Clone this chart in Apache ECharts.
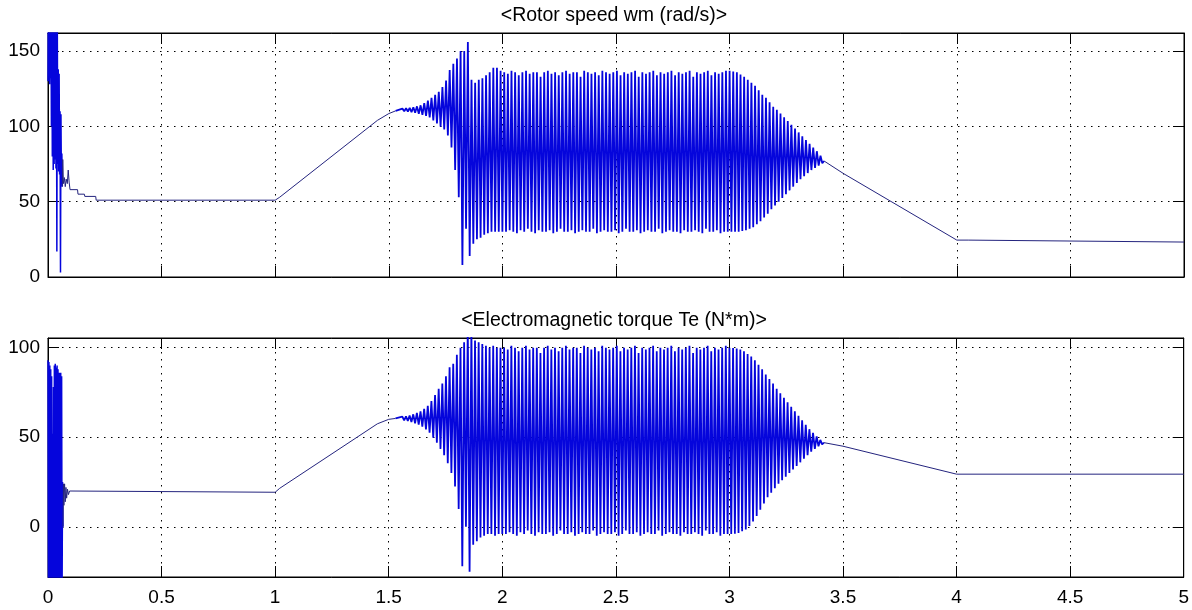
<!DOCTYPE html>
<html>
<head>
<meta charset="utf-8">
<script src="https://cdn.jsdelivr.net/npm/echarts@6/dist/echarts.min.js"></script>
<style>
  html, body { margin: 0; padding: 0; background: #ffffff; }
  #chart { width: 1192px; height: 610px; }
</style>
</head>
<body>
<div id="chart"></div>
<script>
// ================= Rotor speed wm (rad/s) =================
// start-up transient
const speedStartT = [0,0.001,0.003,0.005,0.007,0.009,0.011,0.013,0.015,0.017,
  0.019,0.021,0.023,0.025,0.027,0.029,0.031,0.033,0.035,0.037,
  0.039,0.041,0.043,0.045,0.047,0.049,0.051,0.053,0.055,0.057,
  0.059,0.061,0.063];
const speedStartV = [130,170,135,172,128,170,132,175,100,172,
  80,170,71,168,75,170,78,168,72,165,
  17,165,75,138,70,135,68,110,3,108,
  62,82,60];
// settling, constant-speed stage and acceleration ramp
const speedRampT = [0.065,0.068,0.072,0.076,0.08,0.085,0.089,0.093,0.097,0.13,
  0.132,0.16,0.162,0.21,0.212,1.0,1.02,1.45,1.5,1.53];
const speedRampV = [78,62,66,60,65,62,71,63,58,58,
  55,55,53.5,53.5,51,51,53,104,108.5,110.3];

// oscillating stage, one sample every OSC_DT seconds from OSC_T0
const OSC_T0 = 1.56;
const OSC_DT = 0.008;
const speedOsc = [
  // build-up and overshoot
  111.8,110.1,112,109.9,112.3,109.5,112.7,109,113.3,108.4,
  114,107.7,115.4,107,117.1,106,119,104,121,102,
  123,99.8,126.1,98,130.5,94,137.5,86,141.5,71,
  145,53,150,8,150,32,156,14,131,22,
  129,25,131,26,132,28,134,29,136,30,
  139,30,139,30,137,30,
  // sustained oscillation
  136,30,135,31,137,30,136,29,134,31,136,30,137,32,135,30,136,29,136,31,
  133,30,136,30,137,31,135,29,136,30,134,32,136,30,137,30,135,31,136,29,
  136,30,133,31,137,30,136,30,135,32,136,29,134,30,137,31,136,30,135,30,
  136,31,137,29,134,30,136,32,135,30,136,30,137,31,133,29,136,30,135,31,
  136,30,137,30,134,32,136,29,135,30,136,31,137,30,134,30,136,29,135,31,
  136,30,137,30,133,31,136,30,135,29,136,32,137,30,134,30,136,31,135,29,
  136,30,137,30,
  // decay
  137,30,136.5,30,136,30,134.5,30.5,133,31,
  131,32,129,33,127,35,124,37,121,39.5,
  119,42,116,45,113,47.5,111,50,108.5,52.5,
  106,55,103.5,57.5,101,60,98.5,62.5,96,65,
  93.5,67,91,69,88.5,71,86,72.5,83.5,74,
  80.5,75.5,77
];

// deceleration ramp and final constant speed
const speedTailT = [3.5, 4.0, 4.05, 4.055, 5.0];
const speedTailV = [68.8, 24.5, 24.5, 23.2, 23.2];

// ================= Electromagnetic torque Te (N*m) =================
const torqueStartT = [0,0.002,0.004,0.006,0.008,0.01,0.012,0.014,0.016,0.018,
  0.02,0.022,0.024,0.026,0.028,0.03,0.032,0.034,0.036,0.038,
  0.04,0.042,0.044,0.046,0.048,0.05,0.052,0.054,0.056,0.058,
  0.06,0.062,0.064,0.066];
const torqueStartV = [93,-40,92,-45,90,-40,88,-50,84,-40,
  52,-45,78,-40,90,-45,91,-40,89,-45,
  90,-40,88,-40,86,-40,86,-45,86,-40,
  84,-35,25,0];
const torqueRampT = [0.068,0.07,0.073,0.076,0.079,0.082,0.086,0.09,0.095,0.1,
  1.0,1.02,1.45,1.5,1.53];
const torqueRampV = [24,12,24,14,22,16,21,18,20,19.3,
  19.3,21.5,57.5,60,60.5];

const torqueOsc = [
  // build-up and overshoot
  61.5,59.4,61.7,59.1,62.1,58.5,62.8,57.8,63.6,57,
  64.5,55.9,65.8,54.4,67.5,52.5,70.2,49.8,73.5,47,
  77,43.5,80,40,84,35.5,89,30,91,22.5,
  96,10,100,-22,103,0,112,-25,110,-10,
  104,-8,103,-6,102,-5,101,-4,100,-4,
  101,-5,100,-4,100,-4,
  // sustained oscillation
  100,-4,99,-3,101,-4,100,-5,98,-3,100,-4,101,-2,99,-4,100,-5,100,-3,
  97,-4,100,-4,101,-3,99,-5,100,-4,98,-2,100,-4,101,-4,99,-3,100,-5,
  100,-4,97,-3,101,-4,100,-4,99,-2,100,-5,98,-4,101,-3,100,-4,99,-4,
  100,-3,101,-5,98,-4,100,-2,99,-4,100,-4,101,-3,97,-5,100,-4,99,-3,
  100,-4,101,-4,98,-2,100,-5,99,-4,100,-3,101,-4,98,-4,100,-5,99,-3,
  100,-4,101,-4,97,-3,100,-4,99,-5,100,-2,101,-4,98,-4,100,-3,99,-5,
  100,-4,101,-4,
  // decay
  100,-4,99.8,-3.8,99.5,-3.5,99,-2.5,98,-1.5,
  96.5,0.5,95,3,93,6,90.5,9.5,88,13,
  85,16.5,82.5,19,80,21.5,77,24,74.5,26,
  72,28,69.5,30,67,32,64.5,34,62,36,
  59.5,38,57,40,54.5,42,52.5,43.5,50.5,45,
  48.5,46,47
];

const torqueTailT = [3.5, 4.0, 5.0];
const torqueTailV = [45, 29.4, 29.4];

// ================= axes =================
const timeTicks = ['0','0.5','1','1.5','2','2.5','3','3.5','4','4.5','5'];
const speedRange = [0, 162];
const torqueRange = [-28, 105.4];
const speedTicks = [0, 50, 100, 150];
const torqueTicks = [0, 50, 100];
const titles = ['<Rotor speed wm (rad/s)>', '<Electromagnetic torque Te (N*m)>'];

// ================= styling =================
const FONT = '"Liberation Sans", Arial, Helvetica, sans-serif';
const TICK_LEN = 11;
const DENSE = '#0505dc';
const THIN = '#24247e';
const GRID_DOTS = { color: '#000', width: 1, type: [1.5, 5.5] };
const STYLE = {
  start: { color: DENSE, width: 1.5 },
  thin: { color: THIN, width: 1 },
  osc: { color: DENSE, width: 1.8 }
};

// turn the sections of one signal into joined line series
function pairs(ts, vs) { return ts.map((t, i) => [t, vs[i]]); }
function oscPairs(vs) { return vs.map((v, i) => [+(OSC_T0 + i * OSC_DT).toFixed(4), v]); }
function buildSeries(name, axisIndex, sections) {
  let prev = null;
  return sections.map(sec => {
    const data = prev ? [prev].concat(sec.data) : sec.data.slice();
    prev = sec.data[sec.data.length - 1];
    return {
      name, type: 'line', xAxisIndex: axisIndex, yAxisIndex: axisIndex,
      data, showSymbol: false, symbol: 'none', clip: true, silent: true,
      lineStyle: { color: STYLE[sec.kind].color, width: STYLE[sec.kind].width },
      itemStyle: { color: STYLE[sec.kind].color }
    };
  });
}

const speedSeries = buildSeries('Rotor speed wm', 0, [
  { kind: 'start', data: pairs(speedStartT, speedStartV) },
  { kind: 'thin', data: pairs(speedRampT, speedRampV) },
  { kind: 'osc', data: oscPairs(speedOsc) },
  { kind: 'thin', data: pairs(speedTailT, speedTailV) }
]);
const torqueSeries = buildSeries('Electromagnetic torque Te', 2, [
  { kind: 'start', data: pairs(torqueStartT, torqueStartV) },
  { kind: 'thin', data: pairs(torqueRampT, torqueRampV) },
  { kind: 'osc', data: oscPairs(torqueOsc) },
  { kind: 'thin', data: pairs(torqueTailT, torqueTailV) }
]);

function xAxisFor(gridIndex, position, labels) {
  return {
    type: 'value', gridIndex, position, min: 0, max: 5, interval: 0.5,
    axisLine: { show: true, onZero: false, lineStyle: { color: '#000', width: 1 } },
    axisTick: { show: true, inside: true, length: TICK_LEN, lineStyle: { color: '#000' } },
    axisLabel: {
      show: labels, color: '#000', fontFamily: FONT, fontSize: 19, margin: 11,
      formatter: v => timeTicks[Math.round(v / 0.5)]
    },
    splitLine: { show: position === 'bottom', lineStyle: GRID_DOTS }
  };
}

function yAxisFor(gridIndex, position, range, ticks, labels) {
  return {
    type: 'value', gridIndex, position, min: range[0], max: range[1], splitNumber: 3,
    axisLine: { show: true, onZero: false, lineStyle: { color: '#000', width: 1 } },
    axisTick: { show: true, inside: true, length: TICK_LEN, lineStyle: { color: '#000' } },
    axisLabel: {
      show: labels, color: '#000', fontFamily: FONT, fontSize: 19, margin: 8,
      formatter: v => (ticks.indexOf(Math.round(v * 1000) / 1000) >= 0 ? String(v) : '')
    },
    splitLine: { show: position === 'left', lineStyle: GRID_DOTS }
  };
}

const chart = echarts.init(document.getElementById('chart'), null, { renderer: 'canvas' });
chart.setOption({
  animation: false,
  backgroundColor: '#ffffff',
  title: titles.map((t, i) => ({
    text: t, left: 609, top: i === 0 ? 1 : 306, textAlign: 'center',
    textStyle: { fontFamily: FONT, fontSize: 19.5, fontWeight: 'normal', color: '#000' }
  })),
  grid: [
    { left: 48, top: 33, width: 1136, height: 244, show: true, borderColor: '#000', borderWidth: 1, backgroundColor: '#fff' },
    { left: 48, top: 338, width: 1136, height: 239, show: true, borderColor: '#000', borderWidth: 1, backgroundColor: '#fff' }
  ],
  xAxis: [
    xAxisFor(0, 'bottom', false),
    xAxisFor(0, 'top', false),
    xAxisFor(1, 'bottom', true),
    xAxisFor(1, 'top', false)
  ],
  yAxis: [
    Object.assign(yAxisFor(0, 'left', speedRange, speedTicks, true), { interval: 50 }),
    Object.assign(yAxisFor(0, 'right', speedRange, speedTicks, false), { interval: 50 }),
    yAxisFor(1, 'left', torqueRange, torqueTicks, true),
    yAxisFor(1, 'right', torqueRange, torqueTicks, false)
  ],
  series: speedSeries.concat(torqueSeries)
});
</script>
</body>
</html>
